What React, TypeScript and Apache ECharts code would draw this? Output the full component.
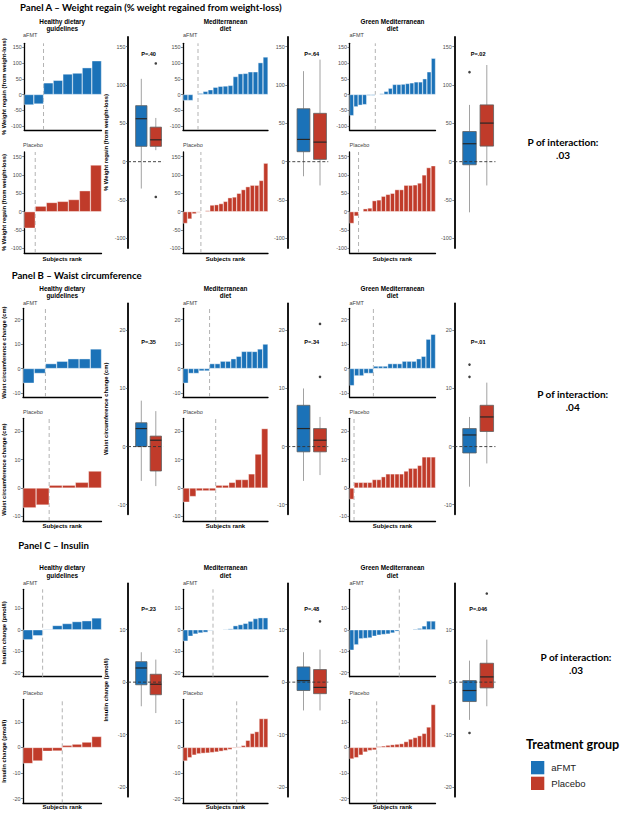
import React, { useEffect, useRef } from "react";
import * as echarts from "echarts";

// ---------- texts / categories ----------
const PANEL_TITLES = [
  "Panel A – Weight regain (% weight regained from weight-loss)",
  "Panel B – Waist circumference",
  "Panel C – Insulin",
];
const DIETS = [
  ["Healthy dietary", "guidelines"],
  ["Mediterranean", "diet"],
  ["Green Mediterranean", "diet"],
];
const GROUPS = ["aFMT", "Placebo"];
const Y_TITLES = [
  "% Weight regain (from weight-loss)",
  "Waist circumference change (cm)",
  "Insulin change (pmol/l)",
];
const P_A = ["P=.40", "P=.64", "P=.02"];
const P_B = ["P=.35", "P=.34", "P=.01"];
const P_C = ["P=.23", "P=.48", "P=.046"];
const P_INTERACTION = [".03", ".04", ".03"];
const TICKS_A = [-100, -50, 0, 50, 100, 150];
const TICKS_B = [-10, 0, 10, 20];
const TICKS_C = [-20, -10, 0, 10];
const LIMITS_A = [-112.5, 162.5];
const LIMITS_B = [-11.65, 24.65];
const LIMITS_C = [-21.85, 18.85];

// ---------- waterfall values (sorted change per subject) ----------
const A_HDG_AFMT = [-33, -30, 37, 45, 65, 68, 85, 107];
const A_HDG_PLAC = [-45, 15, 25, 28, 33, 57, 127];
const A_MED_AFMT = [-19, -19, -1, 4, 10, 15, 23, 26, 27, 29, 57, 66, 67, 72, 72, 101, 119];
const A_MED_PLAC = [-32, -20, -6, -2, 0.5, 3, 18, 19, 22, 28, 38, 40, 50, 60, 68, 72, 72, 85, 132];
const A_GRN_AFMT = [-67, -39, -34, -32, -3, -3, 1, 3, 10, 20, 32, 32, 33, 35, 37, 40, 40, 50, 72, 115];
const A_GRN_PLAC = [-32, -12, 0.5, 8, 10, 30, 32, 42, 47, 50, 60, 60, 72, 72, 73, 78, 100, 120, 125];

const B_HDG_AFMT = [-6, -2, 2, 3, 4, 4, 8];
const B_HDG_PLAC = [-7, -6, 1, 1, 2, 6];
const B_MED_AFMT = [-6, -2, -2, -1, -1, 2, 2, 3, 3, 4, 5, 7, 7, 7, 8, 10];
const B_MED_PLAC = [-5, -3, -1, -1, -1, 1, 1, 2, 3, 3, 5, 12, 21];
const B_GRN_AFMT = [-7, -3, -3, -2, -2, 1, 1, 1, 2, 2, 2, 3, 3, 3, 4, 5, 12, 14];
const B_GRN_PLAC = [-4, 2, 2, 2, 2, 3, 3, 4, 5, 5, 5, 5, 6, 7, 7, 8, 11, 11, 11];

const C_HDG_AFMT = [-4.6, -2.8, 0.3, 2, 2.9, 3.8, 4.2, 5.5];
const C_HDG_PLAC = [-6.3, -5.3, -1.5, -1.4, 0.8, 1.3, 2.1, 4.3];
const C_MED_AFMT = [-5.3, -3, -2, -1.5, -1.2, -0.3, 0.1, 0.2, 0.3, 0.5, 1.9, 2.4, 3, 4, 5.2, 5.6, 5.6];
const C_MED_PLAC = [-5.3, -4, -3, -2.5, -2.3, -2.2, -2, -1.8, -1.5, -1.2, -0.8, -0.3, 0.3, 0.8, 2.8, 5.5, 6.2, 11.3, 11.3];
const C_GRN_AFMT = [-9.5, -7, -4.2, -4, -3.8, -3, -2.5, -2.2, -2, -1.5, -0.7, 0.1, 0.1, 0.2, 0.4, 0.7, 1.8, 4.1, 4.1];
const C_GRN_PLAC = [-4.5, -4, -3, -1.8, -1.2, -1, 0.4, 0.6, 0.9, 1.1, 1.3, 1.5, 2.3, 3.3, 3.9, 4.6, 5.5, 8, 16.8];

// position of the dashed separator (number of subjects left of it)
const SPLIT_A = [[2, 1], [3, 4], [6, 2]];
const SPLIT_B = [[2, 2], [5, 5], [5, 1]];
const SPLIT_C = [[2, 4], [6, 12], [11, 6]];

// ---------- box plots: [min, Q1, median, Q3, max] ----------
const BOX_A_HDG = [[-35, 20, 56, 73, 108], [15, 20, 28.5, 45, 57]];
const BOX_A_MED = [[-19, 13, 29, 69, 118], [-31, 3, 25.5, 63, 133]];
const BOX_A_GRN = [[-66, -4, 23.4, 39.3, 74], [-31, 20.3, 50.3, 74, 126]];
const BOX_B_HDG = [[-5.9, 0, 3.1, 4.1, 7.9], [-6.8, -4.2, 1.1, 1.8, 6.1]];
const BOX_B_MED = [[-5.9, -0.9, 3.1, 7.1, 10], [-4.9, -0.9, 1.1, 3.1, 5.1]];
const BOX_B_GRN = [[-6.9, -1.1, 2, 3.1, 5.1], [-2.9, 2.6, 5.1, 7.1, 11]];
const BOX_C_HDG = [[-4.6, -0.5, 2.7, 3.9, 5.7], [-5.9, -2.4, -0.4, 1.5, 4.3]];
const BOX_C_MED = [[-5.4, -1.6, 0.3, 2.9, 5.7], [-5.4, -2.2, -1, 2.4, 6.2]];
const BOX_C_GRN = [[-7.2, -3.7, -1.6, 0.3, 4.1], [-4.6, -1.1, 1, 3.6, 8.1]];
// outliers per group [aFMT, Placebo]
const OUT_A = [[[], [128, -46]], [[], []], [[116.7], []]];
const OUT_B = [[[], []], [[], [21.1, 12]], [[14.1, 12], []]];
const OUT_C = [[[], []], [[], [11.6]], [[-9.7], [16.9]]];

// ---------- assembled lookups ----------
const WF = [
  [[A_HDG_AFMT, A_HDG_PLAC], [A_MED_AFMT, A_MED_PLAC], [A_GRN_AFMT, A_GRN_PLAC]],
  [[B_HDG_AFMT, B_HDG_PLAC], [B_MED_AFMT, B_MED_PLAC], [B_GRN_AFMT, B_GRN_PLAC]],
  [[C_HDG_AFMT, C_HDG_PLAC], [C_MED_AFMT, C_MED_PLAC], [C_GRN_AFMT, C_GRN_PLAC]],
];
const SPLITS = [SPLIT_A, SPLIT_B, SPLIT_C];
const BOXES = [
  [BOX_A_HDG, BOX_A_MED, BOX_A_GRN],
  [BOX_B_HDG, BOX_B_MED, BOX_B_GRN],
  [BOX_C_HDG, BOX_C_MED, BOX_C_GRN],
];
const OUTS = [OUT_A, OUT_B, OUT_C];
const PVALS = [P_A, P_B, P_C];
const TICKS = [TICKS_A, TICKS_B, TICKS_C];
const LIMITS = [LIMITS_A, LIMITS_B, LIMITS_C];

// ---------- styling / layout ----------
const BLUE = "#1b72b8";
const RED = "#c03b2a";
const COLORS = [BLUE, RED];
const FONT = "'Liberation Sans', Arial, sans-serif";
const TFONT = "Lato, 'Liberation Sans', sans-serif";
const BOX_FRACTION = 0.78;

const COLS = [
  { wfL: 23, wfR: 101.5, boxAxis: 128, boxC: 141.3, band: 14.5 },
  { wfL: 183, wfR: 268, boxAxis: 287.3, boxC: 303.5, band: 16.5 },
  { wfL: 349.5, wfR: 435.5, boxAxis: 454.3, boxC: 469.5, band: 17.3 },
];
const ROWS = [
  { title: 7.5, titleX: 20, colT: [21, 28.5], aLbl: 35, aGrid: [43.3, 130], pLbl: 145, pGrid: [152, 253], rank: 258.5, box: [37, 248], pText: 53.7, inter: [142, 155], interX: 563 },
  { title: 275, titleX: 11.7, colT: [288.3, 295.3], aLbl: 303.3, aGrid: [308.3, 397], pLbl: 411.7, pGrid: [418.3, 521], rank: 526, box: [303.3, 514.3], pText: 342.3, inter: [394, 406.7], interX: 572.7 },
  { title: 545, titleX: 18.3, colT: [567.7, 575], aLbl: 582.7, aGrid: [589.3, 676.7], pLbl: 693.3, pGrid: [699.3, 803.3], rank: 807.3, box: [583.3, 796.7], pText: 609.3, inter: [657, 670], interX: 576 },
];

// box + whiskers without caps (ggplot style), drawn through the axes' scales
function renderBox(params: any, api: any) {
  const x = api.value(0);
  const w = api.size([1, 0])[0] * BOX_FRACTION;
  const pMin = api.coord([x, api.value(1)]);
  const pQ1 = api.coord([x, api.value(2)]);
  const pMed = api.coord([x, api.value(3)]);
  const pQ3 = api.coord([x, api.value(4)]);
  const pMax = api.coord([x, api.value(5)]);
  const cx = pMed[0];
  const whisker = { stroke: "#8a8a8a", lineWidth: 0.8 };
  return {
    type: "group",
    children: [
      { type: "line", shape: { x1: cx, y1: pMin[1], x2: cx, y2: pQ1[1] }, style: whisker },
      { type: "line", shape: { x1: cx, y1: pQ3[1], x2: cx, y2: pMax[1] }, style: whisker },
      {
        type: "rect",
        shape: { x: cx - w / 2, y: pQ3[1], width: w, height: pQ1[1] - pQ3[1] },
        style: { fill: COLORS[params.dataIndex], stroke: "#5e5e5e", lineWidth: 0.8 },
      },
      {
        type: "line",
        shape: { x1: cx - w / 2, y1: pMed[1], x2: cx + w / 2, y2: pMed[1] },
        style: { stroke: "#262626", lineWidth: 1.2 },
      },
    ],
  };
}

function buildOption() {
  const grid: any[] = [];
  const xAxis: any[] = [];
  const yAxis: any[] = [];
  const series: any[] = [];
  const graphic: any[] = [];

  const text = (x: number, y: number, t: string, o: any = {}) => {
    const align = o.align || "left";
    graphic.push({
      type: "text",
      x,
      y,
      silent: true,
      z: 100,
      style: {
        text: t,
        fill: o.fill || "#000",
        fontSize: o.size || 6,
        fontWeight: o.weight || "normal",
        fontFamily: o.family || FONT,
        align,
        verticalAlign: "middle",
        textAlign: align,
        textVerticalAlign: "middle",
      },
    });
  };

  const yAxisOpt = (gridIndex: number, lim: number[], ticks: number[], name: string | undefined, nameGap: number, lw: number) => ({
    type: "value",
    gridIndex,
    min: lim[0],
    max: lim[1],
    axisLine: { show: true, onZero: false, lineStyle: { color: "#000", width: lw } },
    axisTick: { show: true, length: 2, customValues: ticks, lineStyle: { color: "#333", width: 0.6 } },
    axisLabel: { show: true, customValues: ticks, fontSize: 5.4, color: "#4d4d4d", margin: 2.5, fontFamily: FONT },
    splitLine: { show: false },
    name,
    nameLocation: "middle",
    nameGap,
    nameTextStyle: { fontSize: 5.8, fontWeight: "bold", fontFamily: FONT, color: "#000" },
  });

  ROWS.forEach((row, p) => {
    const lim = LIMITS[p];
    const ticks = TICKS[p];
    text(row.titleX, row.title, PANEL_TITLES[p], { size: 9.6, weight: "bold", family: TFONT });
    text(row.interX, row.inter[0], "P of interaction:", { size: 10, weight: "bold", family: TFONT, align: "center" });
    text(row.interX, row.inter[1], P_INTERACTION[p], { size: 10, weight: "bold", family: TFONT, align: "center" });

    COLS.forEach((col, d) => {
      const cx = (col.wfL + col.wfR) / 2;
      text(cx, row.colT[0], DIETS[d][0], { size: 6.4, weight: "bold", align: "center" });
      text(cx, row.colT[1], DIETS[d][1], { size: 6.4, weight: "bold", align: "center" });

      GROUPS.forEach((g, gi) => {
        const [top, bottom] = gi === 0 ? row.aGrid : row.pGrid;
        text(col.wfL, gi === 0 ? row.aLbl : row.pLbl, g, { size: 5.5, fill: "#444" });
        const vals = WF[p][d][gi];
        const gIdx = grid.length;
        grid.push({ left: col.wfL, top, width: col.wfR - col.wfL, height: bottom - top });
        const catIdx = xAxis.length;
        xAxis.push({
          type: "category",
          gridIndex: gIdx,
          data: vals.map((_, i) => String(i + 1)),
          boundaryGap: true,
          axisLine: { show: true, onZero: false, lineStyle: { color: "#000", width: 1.3 } },
          axisTick: { show: false },
          axisLabel: { show: false },
          splitLine: { show: false },
        });
        const valIdx = xAxis.length;
        xAxis.push({ type: "value", gridIndex: gIdx, min: 0, max: vals.length, show: false });
        const yIdx = yAxis.length;
        yAxis.push(yAxisOpt(gIdx, lim, ticks, d === 0 ? Y_TITLES[p] : undefined, 16, 1.3));
        series.push({
          type: "bar",
          name: g,
          xAxisIndex: catIdx,
          yAxisIndex: yIdx,
          data: vals,
          barCategoryGap: "0%",
          itemStyle: { color: COLORS[gi], borderColor: "#fff", borderWidth: 0.4 },
          silent: true,
          z: 3,
        });
        const s = SPLITS[p][d][gi];
        series.push({
          type: "line",
          xAxisIndex: valIdx,
          yAxisIndex: yIdx,
          data: [[s, lim[0]], [s, lim[1]]],
          symbol: "none",
          lineStyle: { color: "#b3b3b3", width: 1, type: [4, 3] },
          silent: true,
          z: 2,
        });
        if (gi === 1) text(cx, row.rank, "Subjects rank", { size: 6, weight: "bold", align: "center" });
      });

      // ---- box plot ----
      const [bTop, bBottom] = row.box;
      const boxL = col.boxC - col.band / 2;
      const axG = grid.length;
      grid.push({ left: col.boxAxis, top: bTop, width: boxL + 2 * col.band - col.boxAxis, height: bBottom - bTop });
      const axX = xAxis.length;
      xAxis.push({ type: "value", gridIndex: axG, min: 0, max: 1, show: false });
      const axY = yAxis.length;
      yAxis.push(yAxisOpt(axG, lim, ticks, d === 0 ? Y_TITLES[p] : undefined, 19, 1.8));
      series.push({
        type: "line",
        xAxisIndex: axX,
        yAxisIndex: axY,
        data: [[0, 0], [1, 0]],
        symbol: "none",
        lineStyle: { color: "#333", width: 0.9, type: [3, 2] },
        z: 10,
        silent: true,
      });
      const bxG = grid.length;
      grid.push({ left: boxL, top: bTop, width: 2 * col.band, height: bBottom - bTop });
      const bxX = xAxis.length;
      xAxis.push({ type: "category", gridIndex: bxG, data: GROUPS, show: false });
      const bxY = yAxis.length;
      yAxis.push({ type: "value", gridIndex: bxG, min: lim[0], max: lim[1], show: false });
      series.push({
        type: "custom",
        xAxisIndex: bxX,
        yAxisIndex: bxY,
        renderItem: renderBox,
        encode: { x: 0, y: [1, 2, 3, 4, 5] },
        data: GROUPS.map((_, gi) => [gi, ...BOXES[p][d][gi]]),
        silent: true,
        z: 4,
      });
      const outs: number[][] = [];
      GROUPS.forEach((_, gi) => OUTS[p][d][gi].forEach((v: number) => outs.push([gi, v])));
      series.push({
        type: "scatter",
        xAxisIndex: bxX,
        yAxisIndex: bxY,
        data: outs,
        symbolSize: 2.6,
        itemStyle: { color: "#111" },
        silent: true,
        z: 11,
      });
      text(boxL + col.band, row.pText, PVALS[p][d], { size: 5.6, weight: "bold", align: "center" });
    });
  });

  text(526, 744, "Treatment group", { size: 12.6, weight: "bold", family: TFONT });

  return {
    animation: false,
    backgroundColor: "#fff",
    grid,
    xAxis,
    yAxis,
    series,
    graphic,
    legend: {
      left: 526,
      top: 756,
      orient: "vertical",
      itemWidth: 13.3,
      itemHeight: 13.3,
      itemGap: 2.4,
      icon: "rect",
      selectedMode: false,
      data: GROUPS.map((g, gi) => ({ name: g, itemStyle: { color: COLORS[gi], borderWidth: 0 } })),
      textStyle: { fontSize: 9.5, color: "#222", fontFamily: FONT, padding: [0, 0, 0, 2] },
    },
  };
}

export default function App() {
  const ref = useRef<HTMLDivElement>(null);
  useEffect(() => {
    if (!ref.current) return;
    const chart = echarts.init(ref.current, null, { renderer: "svg" });
    chart.setOption(buildOption() as any);
    return () => chart.dispose();
  }, []);
  return (
    <div
      ref={ref}
      style={{ position: "absolute", left: 0, top: 0, width: 622, height: 813, background: "#fff" }}
    />
  );
}
